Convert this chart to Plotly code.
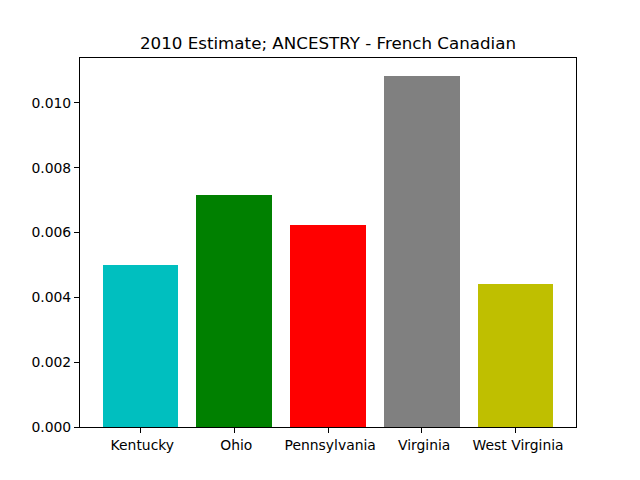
import plotly.graph_objects as go

states = [" Kentucky", " Ohio", " Pennsylvania", " Virginia", " West Virginia"]
values = [0.00499, 0.00715, 0.00622, 0.01084, 0.00441]
colors = ["#00bfbf", "#008000", "#ff0000", "#808080", "#bfbf00"]
y_ticks = [0.0, 0.002, 0.004, 0.006, 0.008, 0.010]

fig = go.Figure(go.Bar(
    x=list(range(len(states))), y=values, marker=dict(color=colors, line=dict(width=0)),
    width=0.8,
))
fig.update_layout(
    width=640, height=480,
    margin=dict(l=80, r=64, t=58, b=53),
    paper_bgcolor="white", plot_bgcolor="white",
    font=dict(family="DejaVu Sans", size=13.9, color="black"),
    title=dict(text="2010 Estimate; ANCESTRY - French Canadian", x=0.5, xanchor="center",
               xref="paper", y=1 - 43 / 480, yanchor="middle", font=dict(size=16.7)),
    showlegend=False,
    bargap=0,
)
fig.update_xaxes(
    range=[-0.64, 4.64], tickmode="array", tickvals=list(range(len(states))), ticktext=states,
    ticks="outside", ticklen=5, tickcolor="black", showline=True, linecolor="black",
    linewidth=1, mirror=True, showgrid=False, zeroline=False,
)
fig.update_yaxes(
    range=[0, 0.011382], tickmode="array", tickvals=y_ticks,
    ticktext=[f"{v:.3f}" for v in y_ticks],
    ticks="outside", ticklen=5, tickcolor="black", showline=True, linecolor="black",
    linewidth=1, mirror=True, showgrid=False, zeroline=False,
)
fig.write_html("out.html", config={"displayModeBar": False},
               post_script="document.body.style.margin='0';")
